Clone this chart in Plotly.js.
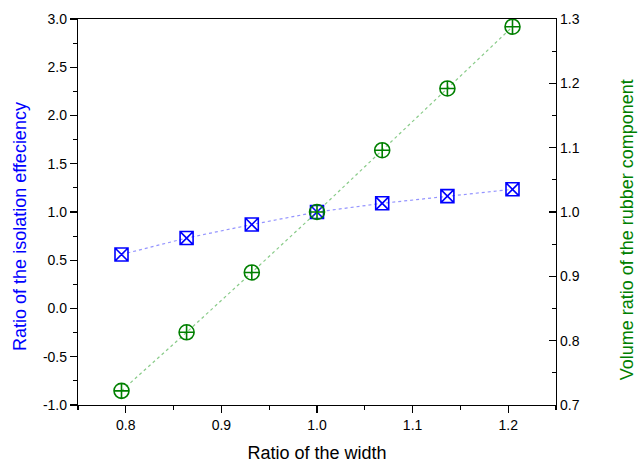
<!DOCTYPE html>
<html>
<head>
<meta charset="utf-8">
<script src="https://cdn.plot.ly/plotly-3.0.1.min.js"></script>
<style>html,body{margin:0;padding:0;background:#fff}#chart{width:638px;height:466px}</style>
</head>
<body>
<div id="chart"></div>
<script>
const widthRatio = [0.7955, 0.8636, 0.9318, 1.0, 1.0682, 1.1364, 1.2045];
const isolationRatio = [0.56, 0.73, 0.87, 1.0, 1.09, 1.165, 1.235];
const volumeRatio = [0.722, 0.813, 0.906, 1.0, 1.096, 1.192, 1.288];

const leftTickVals = [-1.0, -0.5, 0.0, 0.5, 1.0, 1.5, 2.0, 2.5, 3.0];
const leftTickText = ['-1.0', '-0.5', '0.0', '0.5', '1.0', '1.5', '2.0', '2.5', '3.0'];

const xTitle = 'Ratio of the width';
const leftTitle = 'Ratio of the isolation effeciency';
const rightTitle = 'Volume ratio of the rubber component';

const fam = 'Liberation Sans, Arial, sans-serif';
const tickFont = {family: fam, size: 14, color: '#000'};

const traces = [
  {
    x: widthRatio, y: isolationRatio, yaxis: 'y', type: 'scatter', mode: 'lines+markers',
    line: {color: 'rgba(60,60,255,0.55)', width: 1.2, dash: 'dot'},
    marker: {symbol: 'square-x-open', size: 13, color: '#0000ff', line: {width: 1.6, color: '#0000ff'}},
    showlegend: false
  },
  {
    x: widthRatio, y: volumeRatio, yaxis: 'y2', type: 'scatter', mode: 'lines+markers',
    line: {color: 'rgba(40,160,40,0.55)', width: 1.2, dash: 'dot'},
    marker: {symbol: 'circle-cross-open', size: 15, color: '#008000', line: {width: 1.6, color: '#008000'}},
    showlegend: false
  }
];

const layout = {
  width: 638, height: 466,
  margin: {l: 77.5, r: 82, t: 18.5, b: 61},
  paper_bgcolor: '#fff', plot_bgcolor: '#fff',
  xaxis: {
    range: [0.75, 1.25], dtick: 0.1, tickformat: '.1f',
    showgrid: false, zeroline: false,
    showline: true, linecolor: '#000', linewidth: 1.2, mirror: true,
    ticks: 'outside', ticklen: 7, tickwidth: 1.2, tickcolor: '#000',
    minor: {dtick: 0.05, ticks: 'outside', ticklen: 4, tickwidth: 1.2, tickcolor: '#000', showgrid: false},
    tickfont: tickFont,
    title: {text: xTitle, font: {family: fam, size: 18, color: '#000'}, standoff: 14}
  },
  yaxis: {
    range: [-1.0, 3.0], tickmode: 'array', tickvals: leftTickVals, ticktext: leftTickText,
    showgrid: false, zeroline: false,
    showline: true, linecolor: '#000', linewidth: 1.2,
    ticks: 'outside', ticklen: 7, tickwidth: 1.2, tickcolor: '#000',
    minor: {dtick: 0.25, ticks: 'outside', ticklen: 4, tickwidth: 1.2, tickcolor: '#000', showgrid: false},
    tickfont: tickFont
  },
  yaxis2: {
    overlaying: 'y', side: 'right',
    range: [0.7, 1.3], dtick: 0.1, tickformat: '.1f',
    showgrid: false, zeroline: false,
    showline: true, linecolor: '#000', linewidth: 1.2,
    ticks: 'inside', ticklen: 7, tickwidth: 1.2, tickcolor: '#000',
    minor: {dtick: 0.05, ticks: 'inside', ticklen: 4, tickwidth: 1.2, tickcolor: '#000', showgrid: false},
    tickfont: tickFont
  },
  annotations: [
    {text: leftTitle, textangle: -90, xref: 'paper', yref: 'paper', x: -0.12, y: 0.463,
     xanchor: 'center', yanchor: 'middle', showarrow: false,
     font: {family: fam, size: 18, color: '#0000ff'}},
    {text: rightTitle, textangle: -90, xref: 'paper', yref: 'paper', x: 1.149, y: 0.453,
     xanchor: 'center', yanchor: 'middle', showarrow: false,
     font: {family: fam, size: 18, color: '#008000'}}
  ]
};

Plotly.newPlot('chart', traces, layout, {displayModeBar: false, staticPlot: true});
</script>
</body>
</html>
